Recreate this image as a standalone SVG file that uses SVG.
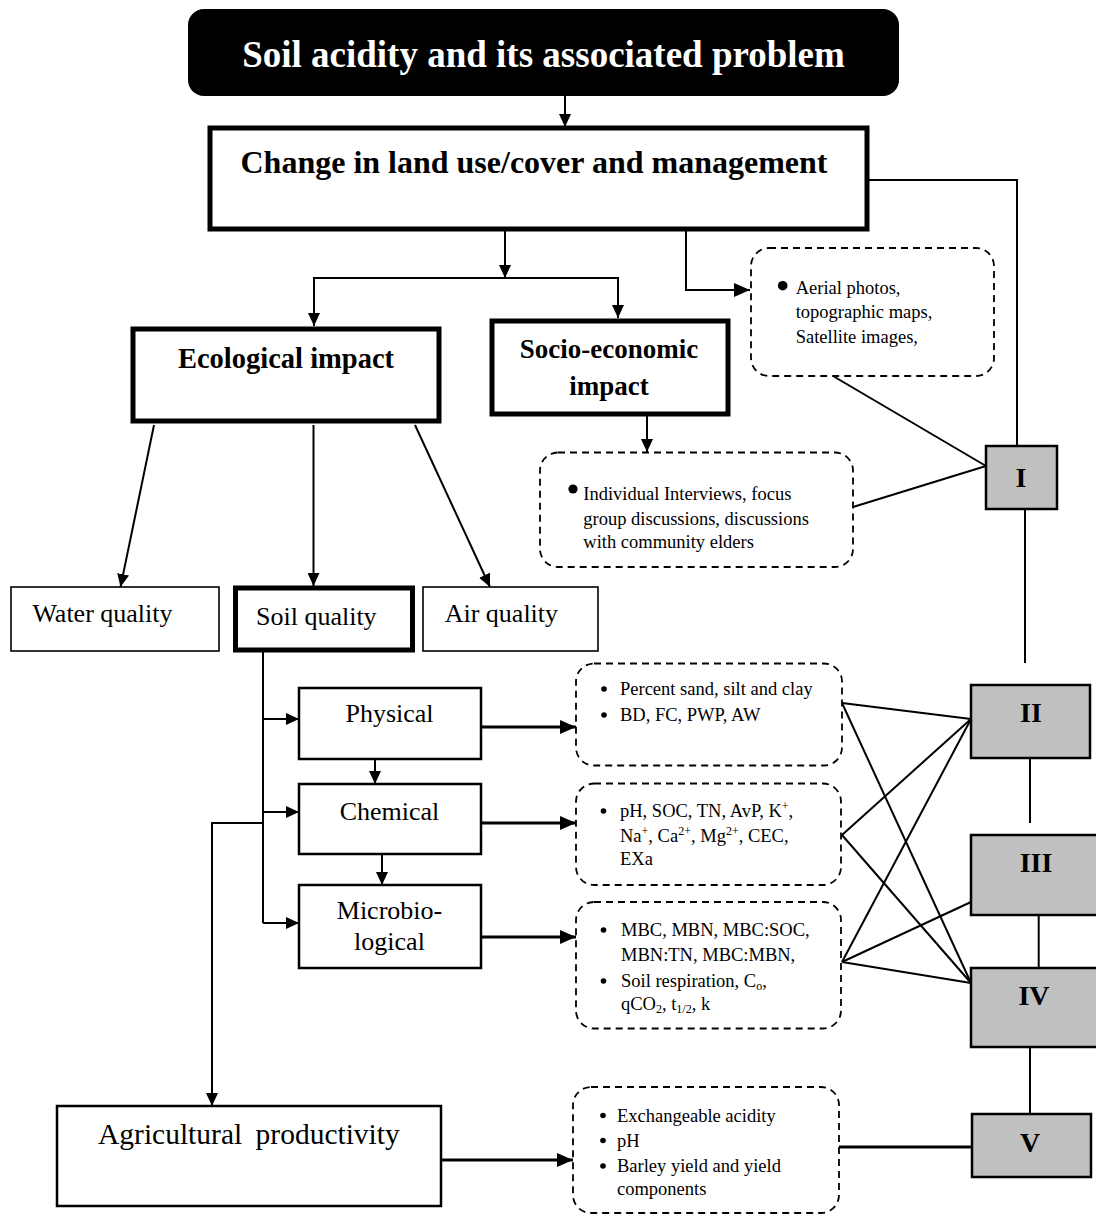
<svg xmlns="http://www.w3.org/2000/svg" width="1096" height="1215" viewBox="0 0 1096 1215">
<style>
text{font-family:"Liberation Serif","Times New Roman",serif;fill:#000}
.b{font-weight:bold}
.box{fill:#fff;stroke:#000}
.thick{stroke-width:5}
.mid{stroke-width:2.5}
.thin{stroke-width:1.6}
.dash{fill:#fff;stroke:#000;stroke-width:1.8;stroke-dasharray:7 5}
.gray{fill:#c0c0c0;stroke:#000;stroke-width:2.5}
.ln{fill:none;stroke:#000;stroke-width:2}
.ln3{fill:none;stroke:#000;stroke-width:3}
.t18{font-size:18.5px}
.sup{font-size:12px}
</style>
<defs>
<marker id="a" markerUnits="userSpaceOnUse" markerWidth="14" markerHeight="12" refX="13" refY="6" orient="auto"><path d="M0,0 L13,6 L0,12 z" fill="#000"/></marker>
<marker id="A" markerUnits="userSpaceOnUse" markerWidth="17" markerHeight="14" refX="16" refY="7" orient="auto"><path d="M0,0 L16,7 L0,14 z" fill="#000"/></marker>
</defs>

<g id="connectors">
<line class="ln" x1="565" y1="96" x2="565" y2="127" marker-end="url(#a)"/>
<polyline class="ln" points="867,180 1017,180 1017,446"/>
<line class="ln" x1="505" y1="231" x2="505" y2="278" marker-end="url(#a)"/>
<line class="ln" x1="313" y1="278" x2="619" y2="278"/>
<line class="ln" x1="314" y1="278" x2="314" y2="326" marker-end="url(#a)"/>
<line class="ln" x1="618" y1="278" x2="618" y2="318" marker-end="url(#a)"/>
<polyline class="ln" points="686,231 686,290 750,290" marker-end="url(#A)"/>
<line class="ln" x1="647" y1="416" x2="647" y2="452" marker-end="url(#a)"/>
<line class="ln" x1="833" y1="376" x2="986" y2="466"/>
<line class="ln" x1="853" y1="507" x2="986" y2="466"/>
<line class="ln" x1="1025" y1="509" x2="1025" y2="663"/>
<line class="ln" x1="154" y1="425" x2="120.5" y2="587" marker-end="url(#a)"/>
<line class="ln" x1="313.5" y1="425" x2="313.5" y2="586" marker-end="url(#a)"/>
<line class="ln" x1="415" y1="425" x2="490" y2="587" marker-end="url(#a)"/>
<line class="ln" x1="263" y1="652" x2="263" y2="923"/>
<line class="ln" x1="263" y1="719" x2="299" y2="719" marker-end="url(#a)"/>
<line class="ln" x1="263" y1="812" x2="299" y2="812" marker-end="url(#a)"/>
<line class="ln" x1="263" y1="923" x2="299" y2="923" marker-end="url(#a)"/>
<line class="ln" x1="375" y1="759" x2="375" y2="784" marker-end="url(#a)"/>
<line class="ln" x1="382" y1="854" x2="382" y2="885" marker-end="url(#a)"/>
<line class="ln3" x1="481" y1="727" x2="576" y2="727" marker-end="url(#A)"/>
<line class="ln3" x1="481" y1="823" x2="576" y2="823" marker-end="url(#A)"/>
<line class="ln3" x1="481" y1="937" x2="576" y2="937" marker-end="url(#A)"/>
<polyline class="ln" points="263,823 212,823 212,1106" marker-end="url(#a)"/>
<line class="ln3" x1="441" y1="1160" x2="573" y2="1160" marker-end="url(#A)"/>
<line class="ln" x1="842" y1="703" x2="971" y2="719"/>
<line class="ln" x1="842" y1="703" x2="971" y2="983"/>
<line class="ln" x1="842" y1="835" x2="971" y2="719"/>
<line class="ln" x1="842" y1="835" x2="971" y2="983"/>
<line class="ln" x1="842" y1="962" x2="971" y2="719"/>
<line class="ln" x1="842" y1="962" x2="971" y2="902"/>
<line class="ln" x1="842" y1="962" x2="971" y2="983"/>
<line class="ln" x1="1030" y1="758" x2="1030" y2="823"/>
<line class="ln" x1="1038.7" y1="915" x2="1038.7" y2="968"/>
<line class="ln" x1="1030" y1="1047" x2="1030" y2="1114"/>
<line class="ln3" x1="839" y1="1147" x2="972" y2="1147"/>
</g>

<g id="title">
<rect x="188" y="9" width="711" height="87" rx="16" fill="#000"/>
<text class="b" x="543.5" y="67" font-size="37" text-anchor="middle" style="fill:#fff">Soil acidity and its associated problem</text>
</g>

<g id="change">
<rect class="box thick" x="210" y="128" width="657" height="101"/>
<text class="b" x="534" y="173" font-size="32" text-anchor="middle">Change in land use/cover and management</text>
</g>

<g id="ecological">
<rect class="box thick" x="133" y="329" width="306" height="92"/>
<text class="b" x="286" y="368" font-size="28.5" text-anchor="middle">Ecological impact</text>
</g>

<g id="socio">
<rect class="box thick" x="492" y="321" width="236" height="93"/>
<text class="b" x="609" y="358" font-size="27" text-anchor="middle">Socio-economic</text>
<text class="b" x="609" y="395" font-size="27" text-anchor="middle">impact</text>
</g>

<g id="aerial">
<rect class="dash" x="751" y="248" width="243" height="128" rx="18"/>
<circle cx="782.7" cy="285.7" r="4.8"/>
<text class="t18" x="795.7" y="294">Aerial photos,</text>
<text class="t18" x="795.7" y="318">topographic maps,</text>
<text class="t18" x="795.7" y="342.7">Satellite images,</text>
</g>

<g id="interviews">
<rect class="dash" x="540" y="452.5" width="313" height="114.5" rx="18"/>
<circle cx="573" cy="489" r="4.6"/>
<text class="t18" x="583.3" y="500">Individual Interviews, focus</text>
<text class="t18" x="583.3" y="524.5">group discussions, discussions</text>
<text class="t18" x="583.3" y="548">with community elders</text>
</g>

<g id="I">
<rect class="gray" x="986" y="446" width="71" height="63"/>
<text class="b" x="1021" y="487" font-size="28" text-anchor="middle">I</text>
</g>

<g id="water">
<rect class="box thin" x="11" y="587" width="208" height="64"/>
<text x="32.4" y="621.7" font-size="26">Water quality</text>
</g>
<g id="soil">
<rect class="box thick" x="235.5" y="588" width="177" height="62"/>
<text x="256" y="625" font-size="26">Soil quality</text>
</g>
<g id="air">
<rect class="box thin" x="423" y="587" width="175" height="64"/>
<text x="444.7" y="621.7" font-size="26">Air quality</text>
</g>

<g id="physical">
<rect class="box mid" x="299" y="688" width="182" height="71"/>
<text x="389.5" y="722" font-size="26" text-anchor="middle">Physical</text>
</g>
<g id="chemical">
<rect class="box mid" x="299" y="784" width="182" height="70"/>
<text x="389.5" y="820" font-size="26" text-anchor="middle">Chemical</text>
</g>
<g id="microbio">
<rect class="box mid" x="299" y="885" width="182" height="83"/>
<text x="389.5" y="919" font-size="26" text-anchor="middle">Microbio-</text>
<text x="389.5" y="950" font-size="26" text-anchor="middle">logical</text>
</g>

<g id="physical-ind">
<rect class="dash" x="576" y="663.5" width="266" height="102" rx="18"/>
<circle cx="604" cy="689" r="2.8"/>
<circle cx="604" cy="715" r="2.8"/>
<text class="t18" x="620" y="695">Percent sand, silt and clay</text>
<text class="t18" x="620" y="721">BD, FC, PWP, AW</text>
</g>

<g id="chemical-ind">
<rect class="dash" x="576" y="783.5" width="265" height="101.5" rx="18"/>
<circle cx="603.5" cy="811" r="2.8"/>
<text class="t18" x="620" y="816.7">pH, SOC, TN, AvP, K<tspan class="sup" dy="-7">+</tspan><tspan dy="7">,</tspan></text>
<text class="t18" x="620" y="841.7">Na<tspan class="sup" dy="-7">+</tspan><tspan dy="7">, Ca</tspan><tspan class="sup" dy="-7">2+</tspan><tspan dy="7">, Mg</tspan><tspan class="sup" dy="-7">2+</tspan><tspan dy="7">, CEC,</tspan></text>
<text class="t18" x="620" y="865">EXa</text>
</g>

<g id="microbio-ind">
<rect class="dash" x="576" y="902" width="265" height="126.5" rx="18"/>
<circle cx="603.5" cy="930" r="2.8"/>
<circle cx="603.5" cy="981" r="2.8"/>
<text class="t18" x="621" y="935.5">MBC, MBN, MBC:SOC,</text>
<text class="t18" x="621" y="960.5">MBN:TN, MBC:MBN,</text>
<text class="t18" x="621" y="986.7">Soil respiration, C<tspan class="sup" dy="3">o</tspan><tspan dy="-3">,</tspan></text>
<text class="t18" x="621" y="1010">qCO<tspan class="sup" dy="3">2</tspan><tspan dy="-3">, t</tspan><tspan class="sup" dy="3">1/2</tspan><tspan dy="-3">, k</tspan></text>
</g>

<g id="II">
<rect class="gray" x="971" y="685" width="119" height="73"/>
<text class="b" x="1031" y="721.7" font-size="28" text-anchor="middle">II</text>
</g>
<g id="III">
<rect class="gray" x="971" y="835" width="135" height="80"/>
<text class="b" x="1036" y="871.7" font-size="28" text-anchor="middle">III</text>
</g>
<g id="IV">
<rect class="gray" x="971" y="968" width="135" height="79"/>
<text class="b" x="1034" y="1005" font-size="28" text-anchor="middle">IV</text>
</g>
<g id="V">
<rect class="gray" x="972" y="1114" width="119" height="63"/>
<text class="b" x="1030" y="1152" font-size="28" text-anchor="middle">V</text>
</g>

<g id="agri">
<rect class="box mid" x="57" y="1106" width="384" height="100"/>
<text x="98" y="1144" font-size="29.5">Agricultural <tspan dx="6">productivity</tspan></text>
</g>

<g id="agri-ind">
<rect class="dash" x="573" y="1087" width="266" height="126" rx="18"/>
<circle cx="603" cy="1115.5" r="2.8"/>
<circle cx="603" cy="1140.5" r="2.8"/>
<circle cx="603" cy="1166" r="2.8"/>
<text class="t18" x="617" y="1121.7">Exchangeable acidity</text>
<text class="t18" x="617" y="1146.7">pH</text>
<text class="t18" x="617" y="1172">Barley yield and yield</text>
<text class="t18" x="617" y="1195">components</text>
</g>
</svg>
